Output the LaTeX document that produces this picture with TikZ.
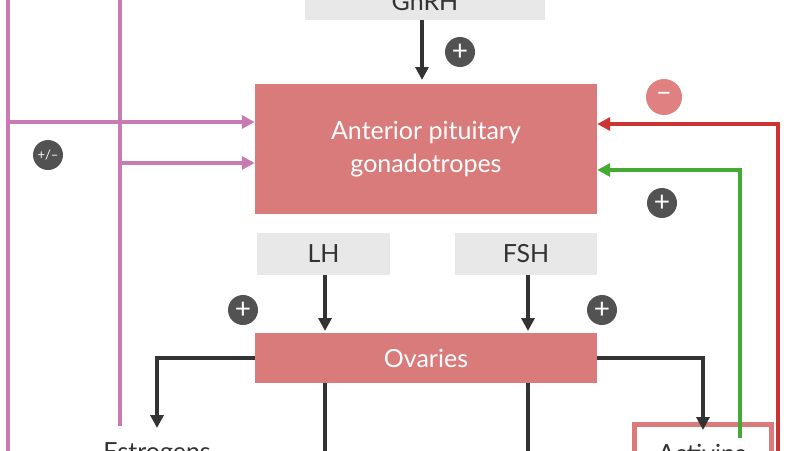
\documentclass[tikz,border=0pt]{standalone}
\usepackage{fontspec}
\setmainfont{Lato}
\usetikzlibrary{arrows.meta}
\definecolor{box}{HTML}{D97B7B}
\definecolor{gbox}{HTML}{E8E8E8}
\definecolor{dk}{HTML}{333333}
\definecolor{pk}{HTML}{C77BB0}
\definecolor{rd}{HTML}{CC3333}
\definecolor{gr}{HTML}{44AA33}
\definecolor{mc}{HTML}{E08080}
\begin{document}
\begin{tikzpicture}[x=1pt,y=-1pt,
 hb/.style={fill=box,draw=none,text=white,font=\fontsize{25}{33}\selectfont,align=center},
 gb/.style={fill=gbox,draw=none,text=dk,font=\fontsize{25}{30}\selectfont},
 ar/.style={line width=3.5pt,-{Triangle[length=13pt,width=13pt]}},
 pc/.style={circle,fill=dk!85!white,text=white,minimum size=30pt,inner sep=0pt,font=\fontsize{28}{28}\selectfont},
 ln/.style={line width=3.5pt}]
\useasboundingbox (0,0) rectangle (800,450);
\clip (0,0) rectangle (800,450);
% boxes
\node[gb,minimum width=240pt,minimum height=50pt] (gnrh) at (425,-5) {};
\node[font=\fontsize{25}{30}\selectfont,text=dk] (gt) at (425,2) {GnRH};
\node[hb,minimum width=342pt,minimum height=130pt] (pit) at (426,149) {Anterior pituitary\\gonadotropes};
\node[gb,minimum width=133pt,minimum height=42pt] (lh) at (323.5,254) {LH};
\node[gb,minimum width=142pt,minimum height=42pt] (fsh) at (526,254) {FSH};
\node[hb,minimum width=342pt,minimum height=50pt] (ov) at (426,358) {Ovaries};
\node[font=\fontsize{25}{30}\selectfont,text=dk] (est) at (157,454) {Estrogens};
\draw[draw=box,line width=5pt] (634,424) rectangle (771,480);
\node[font=\fontsize{25}{30}\selectfont,text=dk] (act) at (702,453) {Activins};
% GnRH
\draw[ar,dk] (422,20) -- (422,80);
\node[pc] (p1) at (460,52) {+};
% LH FSH
\draw[ar,dk] (325,275) -- (325,331);
\draw[ar,dk] (528,275) -- (528,331);
\node[pc] (p2) at (243,310) {+};
\node[pc] (p3) at (602,310) {+};
% ovaries outputs
\draw[ar,dk] (ov.west) -- (157,358) -- (157,428);
\draw[ar,dk] (ov.east) -- (703,358) -- (703,430);
\draw[ln,dk] (325,383) -- (325,460);
\draw[ln,dk] (528,383) -- (528,460);
% pink feedback
\coordinate (pa) at (8,460);
\coordinate (pb) at (120,426);
\draw[ln,pk] (pa) -- (8,-10);
\draw[ln,pk] (pb) -- (120,-10);
\draw[ar,pk] (8,122) -- (pit.west |- 0,122);
\draw[ar,pk] (120,163) -- (pit.west |- 0,163);
\node[pc,minimum size=30pt,font=\fontsize{13}{13}\selectfont] (pm) at (48,155) {+/–};
% red
\draw[ar,rd] (778,460) -- (778,124) -- (pit.east |- 0,124);
\node[circle,fill=mc,minimum size=36pt,inner sep=0pt,text=white,font=\fontsize{28}{28}\selectfont] (mi) at (664,97) {–};
% green
\draw[ar,gr] (740,438) -- (740,170) -- (pit.east |- 0,170);
\node[pc] (p4) at (662,203) {+};
\end{tikzpicture}
\end{document}
